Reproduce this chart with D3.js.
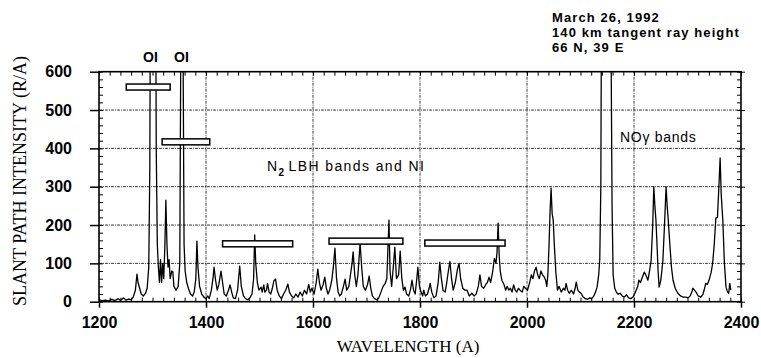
<!doctype html>
<html lang="en">
<head>
<meta charset="utf-8">
<title>Slant path intensity spectrum</title>
<script src="https://d3js.org/d3.v7.min.js"></script>
<style>
  body { margin: 0; background: #fff; }
  svg { display: block; }
  .tick text { font-family: "Liberation Sans", Arial, sans-serif; font-weight: bold; font-size: 16px; fill: #000; }
  .ann { font-family: "Liberation Sans", Arial, sans-serif; fill: #000; }
  .axlabel { font-family: "Liberation Serif", "Times New Roman", serif; fill: #000; }
</style>
</head>
<body>
<div id="chart"></div>
<script>
// axis ticks
const xTicks = [1200, 1400, 1600, 1800, 2000, 2200, 2400];
const yTicks = [0, 100, 200, 300, 400, 500, 600];

// spectrum, [wavelength (A), intensity (R/A)]
const spectrumOI = [
  [1200,5],[1206,3],[1212,4],[1218,2],[1224,6],[1230,3],[1236,8],[1240,3],[1246,10],[1250,4],[1256,7],[1260,5],
  [1264,12],[1268,30],[1271,72],[1273,50],[1276,35],[1279,20],[1283,15],[1287,22],[1290,35],[1293,90],[1295,350],
  [1296,800],[1301,1500],[1306,800],[1307,400],[1309,150],[1311,90],[1313,50],[1315,110],[1317,50],[1319,100],
  [1321,60],[1323,140],[1325,265],[1327,150],[1329,90],[1331,110],[1333,60],[1336,80],[1338,78],[1340,40],
  [1344,30],[1348,40],[1351,100],[1353,700],[1355,2000],[1357,700],[1359,150],[1361,80],[1364,50],[1367,35],
  [1371,20],[1375,15],[1378,25],[1381,60],[1383,158],[1385,90],[1388,40],[1392,20],[1396,12],[1400,8]
];
const spectrumLBH = [
  [1403,15],[1406,8],[1410,30],[1413,60],[1415,90],[1418,55],[1421,30],[1424,45],[1428,80],[1431,50],[1434,20],
  [1438,15],[1442,30],[1445,44],[1448,25],[1451,10],[1455,8],[1459,30],[1463,93],[1466,40],[1470,15],[1474,8],
  [1478,5],[1482,10],[1486,20],[1489,60],[1491,174],[1493,100],[1496,50],[1499,30],[1503,38],[1505,25],[1508,44],
  [1510,25],[1513,30],[1515,48],[1518,25],[1521,20],[1524,35],[1527,55],[1530,59],[1533,30],[1537,15],[1541,8],
  [1545,20],[1549,30],[1553,46],[1556,25],[1560,15],[1564,10],[1568,20],[1572,12],[1576,25],[1580,15],[1584,30],
  [1588,20],[1592,45],[1595,25],[1598,35],
  [1602,20],[1606,50],[1609,85],[1612,50],[1615,30],[1619,45],[1622,64],[1625,35],[1628,20],[1631,30],[1635,55],
  [1638,90],[1641,140],[1644,60],[1647,25],[1650,15],[1653,20],[1656,35],[1660,59],[1663,30],[1667,40],[1670,70],
  [1673,100],[1675,130],[1678,70],[1681,40],[1684,70],[1688,153],[1691,90],[1694,40],[1698,30],[1702,45],[1705,67],
  [1708,35],[1711,15],[1715,8],[1719,5],[1723,10],[1727,25],[1731,40],[1735,48],[1738,60],[1742,213],[1744,80],
  [1747,40],[1750,90],[1753,142],[1756,60],[1760,70],[1763,132],[1766,60],[1769,30],[1772,38],[1775,20],[1779,15],
  [1782,30],[1785,56],[1788,30],[1791,20],[1794,60],[1796,90],[1799,40],
  [1802,25],[1805,15],[1807,30],[1810,15],[1814,20],[1817,35],[1819,48],[1822,25],[1826,10],[1830,15],[1834,50],
  [1837,103],[1840,60],[1843,30],[1847,25],[1850,50],[1853,80],[1856,105],[1859,60],[1862,30],[1866,50],[1870,85],
  [1873,100],[1876,60],[1880,35],[1884,30],[1888,30],[1892,15],[1897,22],[1901,15],[1905,20],[1909,40],[1912,70],
  [1915,40],[1919,35],[1923,45],[1926,50],[1929,64],[1932,50],[1936,80],[1939,113],[1942,100],[1944,130],[1946,205],
  [1948,120],[1950,80],[1953,56],[1957,45],[1960,30],[1963,40],[1966,30],[1969,35],[1972,25],[1975,44],[1978,30],
  [1981,25],[1984,35],[1987,30],[1991,25],[1994,40],[1997,35]
];
const spectrumNO = [
  [2001,30],[2005,50],[2008,70],[2011,60],[2014,80],[2017,90],[2020,70],[2023,60],[2026,80],[2029,70],[2032,65],
  [2035,55],[2037,40],[2039,70],[2041,140],[2043,230],[2045,296],[2047,230],[2049,213],[2051,150],[2054,75],
  [2057,30],[2060,40],[2064,25],[2068,35],[2071,30],[2073,48],[2076,30],[2079,22],[2083,30],[2087,20],[2090,35],
  [2092,51],[2095,30],[2098,25],[2101,22],[2105,12],[2109,8],[2113,6],[2117,10],[2121,8],[2125,15],[2128,25],
  [2131,38],[2134,70],[2136,110],[2138,300],[2139,700],[2148,1500],[2157,700],[2159,250],[2161,70],[2164,35],
  [2167,25],[2170,20],[2174,22],[2178,15],[2182,12],[2186,18],[2190,10],[2194,8],[2198,12],
  [2201,20],[2204,30],[2207,40],[2209,56],[2212,50],[2216,65],[2219,77],[2222,70],[2226,56],[2229,80],[2232,108],
  [2235,200],[2237,300],[2239,250],[2241,213],[2243,150],[2245,80],[2247,38],[2250,55],[2252,80],[2254,108],
  [2257,200],[2260,300],[2262,250],[2264,213],[2267,150],[2270,90],[2273,56],[2277,35],[2282,22],[2287,15],
  [2292,12],[2297,12],[2301,10],[2305,15],[2308,25],[2310,35],[2313,30],[2316,25],[2320,15],[2325,12],[2329,20],
  [2332,35],[2334,48],[2337,45],[2340,55],[2344,75],[2347,100],[2350,150],[2353,218],[2356,220],[2358,280],
  [2361,375],[2363,280],[2366,213],[2369,100],[2372,38],[2375,25],[2377,22],[2379,48],[2381,30]
];

// passband bars
const barStart = [1251, 1318, 1431, 1630, 1809];
const barEnd   = [1333, 1407, 1562, 1768, 1959];
const barLevel = [560, 417, 151, 158, 153];

const width = 761, height = 358;
const x = d3.scaleLinear([1200, 2400], [99, 741]);
const y = d3.scaleLinear([0, 600], [301.7, 71.7]);

const svg = d3.select("#chart").append("svg")
    .attr("width", width)
    .attr("height", height)
    .attr("viewBox", [0, 0, width, height]);

svg.append("defs").append("clipPath").attr("id", "plot")
  .append("rect")
    .attr("x", x(1200)).attr("y", y(600))
    .attr("width", x(2400) - x(1200)).attr("height", y(0) - y(600));

// grid
const grid = svg.append("g")
    .attr("stroke", "#222")
    .attr("stroke-width", 0.9)
    .attr("stroke-dasharray", "3,1,1,1");
grid.selectAll("line.h")
  .data(yTicks.slice(1, -1))
  .join("line")
    .attr("x1", x(1200)).attr("x2", x(2400))
    .attr("y1", d => y(d)).attr("y2", d => y(d));
grid.selectAll("line.v")
  .data(xTicks.slice(1, -1))
  .join("line")
    .attr("y1", y(0)).attr("y2", y(600))
    .attr("x1", d => x(d)).attr("x2", d => x(d));

// spectrum
const line = d3.line().x(d => x(d[0])).y(d => y(d[1]));
svg.append("path")
    .datum(spectrumOI.concat(spectrumLBH, spectrumNO))
    .attr("clip-path", "url(#plot)")
    .attr("fill", "none")
    .attr("stroke", "#000")
    .attr("stroke-width", 1.3)
    .attr("stroke-linejoin", "round")
    .attr("d", line);

// bars on top of the line
svg.append("g")
  .selectAll("rect")
  .data(barLevel)
  .join("rect")
    .attr("x", (d, i) => x(barStart[i]))
    .attr("width", (d, i) => x(barEnd[i]) - x(barStart[i]))
    .attr("y", d => y(d) - 3)
    .attr("height", 6)
    .attr("fill", "#fff")
    .attr("stroke", "#000")
    .attr("stroke-width", 1.5);

// axes
const minorX = d3.range(1200, 2401, 20);
const minorY = d3.range(0, 601, 20);
const noLabels = g => { g.select(".domain").remove(); g.selectAll("text").remove(); };

svg.append("g")
    .attr("transform", `translate(0,${y(0)})`)
    .call(d3.axisBottom(x).tickValues(xTicks).tickSize(6).tickPadding(9).tickFormat(d3.format("d")))
    .call(g => g.select(".domain").remove())
    .call(g => g.selectAll(".tick line").attr("stroke-width", 1.5));
svg.append("g")
    .attr("transform", `translate(0,${y(0)})`)
    .call(d3.axisTop(x).tickValues(minorX).tickSize(4))
    .call(noLabels);
svg.append("g")
    .attr("transform", `translate(0,${y(600)})`)
    .call(d3.axisBottom(x).tickValues(minorX).tickSize(4))
    .call(noLabels);

svg.append("g")
    .attr("transform", `translate(${x(1200)},0)`)
    .call(d3.axisLeft(y).tickValues(yTicks).tickSize(9).tickPadding(18))
    .call(g => g.select(".domain").remove())
    .call(g => g.selectAll(".tick line").attr("stroke-width", 1.5));
svg.append("g")
    .attr("transform", `translate(${x(1200)},0)`)
    .call(d3.axisRight(y).tickValues(minorY).tickSize(4))
    .call(noLabels);
svg.append("g")
    .attr("transform", `translate(${x(2400)},0)`)
    .call(d3.axisLeft(y).tickValues(minorY).tickSize(4))
    .call(noLabels);
svg.append("g")
    .attr("transform", `translate(${x(2400)},0)`)
    .call(d3.axisRight(y).tickValues(yTicks).tickSize(4))
    .call(noLabels);

// frame
svg.append("rect")
    .attr("x", x(1200)).attr("y", y(600))
    .attr("width", x(2400) - x(1200)).attr("height", y(0) - y(600))
    .attr("fill", "none")
    .attr("stroke", "#000")
    .attr("stroke-width", 1.6);

// axis titles
svg.append("text")
    .attr("class", "axlabel")
    .attr("x", 408).attr("y", 352)
    .attr("text-anchor", "middle")
    .attr("font-size", 17)
    .text("WAVELENGTH (A)");
svg.append("text")
    .attr("class", "axlabel")
    .attr("transform", "translate(26,181) rotate(-90)")
    .attr("text-anchor", "middle")
    .attr("font-size", 18)
    .text("SLANT PATH INTENSITY (R/A)");

// annotations
const ann = svg.append("g").attr("class", "ann");
ann.append("text").attr("x", 143).attr("y", 62).attr("font-size", 14).attr("font-weight", "bold").text("OI");
ann.append("text").attr("x", 174).attr("y", 62).attr("font-size", 14).attr("font-weight", "bold").text("OI");

const n2 = ann.append("text").attr("x", 267).attr("y", 171).attr("font-size", 14).attr("letter-spacing", 1.4);
n2.append("tspan").text("N");
n2.append("tspan").attr("font-size", 10).attr("font-weight", "bold").attr("dy", 5).text("2");
n2.append("tspan").attr("dy", -5).attr("dx", 3).text("LBH bands and NI");

ann.append("text").attr("x", 620).attr("y", 142).attr("font-size", 14).attr("letter-spacing", 0.7).text("NOγ bands");

const header = ["March 26, 1992", "140 km tangent ray height", "66 N, 39 E"];
ann.selectAll("text.hdr")
  .data(header)
  .join("text")
    .attr("class", "hdr")
    .attr("x", 552)
    .attr("y", (d, i) => 22 + i * 15)
    .attr("font-size", 13)
    .attr("letter-spacing", 1.1)
    .attr("font-weight", "bold")
    .text(d => d);
</script>
</body>
</html>
